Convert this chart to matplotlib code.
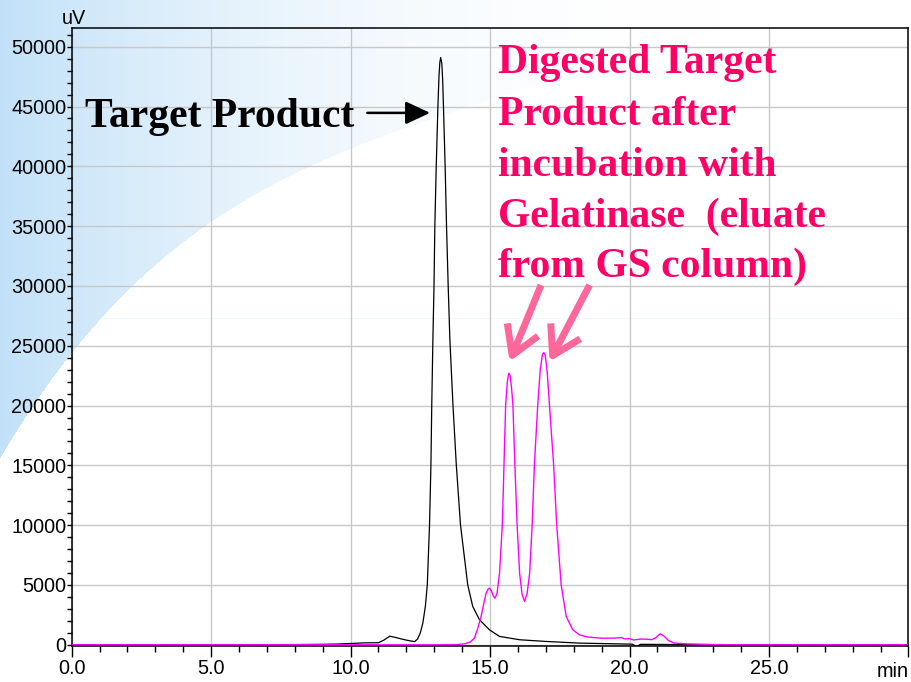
import numpy as np
import matplotlib
matplotlib.use("Agg")
import matplotlib.pyplot as plt
from matplotlib.ticker import MultipleLocator, FuncFormatter

# Target product (black) trace: time (min), signal (uV)
t_target = [0.0, 5.0, 8.0, 9.0, 9.5, 10.0, 10.5, 11.0, 11.2, 11.4, 11.6, 11.8, 12.0,
            12.2, 12.3, 12.4, 12.5, 12.59, 12.68, 12.75, 12.83, 12.88, 12.91, 12.95,
            12.99, 13.02, 13.07, 13.13, 13.17, 13.2, 13.23, 13.27, 13.3, 13.33, 13.39,
            13.44, 13.5, 13.56, 13.67, 13.79, 13.94, 14.2, 14.38, 14.62, 14.98, 15.34,
            16.06, 17.0, 18.2, 19.5, 20.1, 20.25, 20.4, 21.0, 23.0, 30.0]
y_target = [0, 0, 20, 40, 60, 110, 160, 170, 400, 720, 620, 500, 390,
            300, 270, 480, 1000, 1810, 3200, 5010, 10025, 15040, 20050, 25480,
            29930, 34950, 39960, 44970, 47600, 48700, 49100, 48600, 47300, 44970, 39960,
            34950, 29930, 25480, 20050, 15040, 10025, 5010, 3200, 2100, 1250, 700,
            420, 280, 140, 80, 50, -150, 40, 30, 0, 0]

# Digested product after gelatinase (magenta) trace
t_digest = [0.0, 5.0, 10.0, 13.0, 13.8, 14.1, 14.3, 14.44, 14.55, 14.68, 14.78, 14.86,
            14.93, 14.98, 15.05, 15.12, 15.18, 15.25, 15.34, 15.44, 15.5, 15.56, 15.62,
            15.67, 15.72, 15.77, 15.82, 15.89, 15.97, 16.06, 16.15, 16.24, 16.33, 16.42,
            16.51, 16.59, 16.71, 16.8, 16.88, 16.93, 16.98, 17.05, 17.13, 17.28, 17.39,
            17.55, 17.73, 17.97, 18.2, 18.5, 19.0, 19.5, 19.7, 19.85, 20.0, 20.15, 20.4,
            20.6, 20.8, 20.95, 21.1, 21.25, 21.4, 21.6, 22.0, 23.0, 24.0, 30.0]
y_digest = [0, 0, 0, 0, 20, 80, 250, 560, 1300, 2370, 3500, 4320,
            4650, 4740, 4500, 4050, 3900, 4300, 5990, 10025, 15040, 20050, 22000,
            22700, 22500, 21500, 20050, 15040, 10025, 5990, 4200, 3620, 4300, 5990,
            10025, 15040, 20050, 23000, 24300, 24430, 24200, 22800, 20050, 15040, 10025,
            5010, 2370, 1250, 835, 650, 550, 560, 600, 480, 520, 400, 480,
            470, 430, 600, 920, 700, 350, 150, 80, 20, 0, 0]

digest_lines = ["Digested Target", "Product after", "incubation with",
                "Gelatinase  (eluate", "from GS column)"]

W, H = 911, 682
fig = plt.figure(figsize=(W / 100, H / 100), dpi=100)

# slide background: pale blue gradient on the left, white swoosh below a curve
bx = np.array([0, 33, 70, 100, 130, 177, 213, 300, 407, 500, 650, 800, 911])
by = np.array([472, 390, 347, 318, 287, 250, 227, 173, 125, 92, 48, 12, -15])
xs = np.arange(W)
edge = np.polyval(np.polyfit(bx, by, 4), xs)
yy, xx = np.mgrid[0:H, 0:W]
f = np.clip(1 - xx / 720.0, 0, 1) ** 2.2
f = np.where(yy < edge[None, :], f, 0.0)
base = np.array([194, 225, 248]) / 255.0
img = 1 - f[..., None] * (1 - base)
img[318, 100:] = img[318, 100:] * 0.6 + np.array([0.88, 0.94, 0.99]) * 0.4
bg = fig.add_axes([0, 0, 1, 1], zorder=-1)
bg.imshow(img, aspect="auto", interpolation="bilinear")
bg.axis("off")

ax = fig.add_axes([71.7 / W, (H - 645.5) / H, (908.4 - 71.7) / W, (645.5 - 28.3) / H])
ax.patch.set_alpha(0)
ax.set_xlim(0, 30)
ax.set_ylim(-60, 51540)

ax.plot(t_target, y_target, color="black", lw=0.9, zorder=3)
ax.plot(t_digest, y_digest, color="#ff00ff", lw=1.0, zorder=4)

ax.xaxis.set_major_locator(MultipleLocator(5))
ax.xaxis.set_minor_locator(MultipleLocator(1))
ax.yaxis.set_major_locator(MultipleLocator(5000))
ax.yaxis.set_minor_locator(MultipleLocator(1000))
# last tick at 30 min carries the "min" unit instead of a number
ax.xaxis.set_major_formatter(FuncFormatter(lambda v, p: "" if v >= 29.9 else f"{v:.1f}"))
ax.grid(True, which="major", color="#c8c8c8", lw=1.0, zorder=0)
ax.set_axisbelow(True)
for s in ax.spines.values():
    s.set_color("black")
    s.set_linewidth(1.1)

tick_font = {"family": "Liberation Sans", "size": 14.3}
ax.tick_params(axis="y", which="both", direction="out", length=3.8, width=1.0, pad=0)
ax.tick_params(axis="x", which="major", direction="out", length=8, width=1.0, pad=2)
ax.tick_params(axis="x", which="minor", direction="out", length=4.3, width=1.0)
for lab in ax.get_xticklabels() + ax.get_yticklabels():
    lab.set_fontfamily(tick_font["family"])
    lab.set_fontsize(tick_font["size"])

ax.annotate("uV", xy=(0, 1), xycoords="axes fraction", xytext=(1.7, 3.1),
            textcoords="offset points", ha="center", va="baseline", **tick_font)
ax.annotate("min", xy=(1, 0), xycoords="axes fraction", xytext=(0, -23),
            textcoords="offset points", ha="right", va="baseline", **tick_font)

serif = {"family": "Liberation Serif", "weight": "bold", "size": 30}
ax.text(0.47, 43300, "Target Product", ha="left", va="baseline", color="black", **serif)
ax.annotate("", xy=(12.85, 44470), xytext=(10.6, 44470),
            arrowprops=dict(arrowstyle="-|>,head_length=0.75,head_width=0.35",
                            mutation_scale=20, color="black", lw=1.8,
                            shrinkA=0, shrinkB=0))

base_rows = [47790, 43440, 39180, 34920, 30740]
for line, yb in zip(digest_lines, base_rows):
    ax.text(15.27, yb, line, ha="left", va="baseline", color="#ff0066", **serif)

for start, tip in [((16.83, 30080), (15.70, 23670)), ((18.57, 30080), (17.13, 23670))]:
    ax.annotate("", xy=tip, xytext=start,
                arrowprops=dict(arrowstyle="->,head_length=1.0,head_width=0.6",
                                mutation_scale=20, color="#ff6699", lw=5,
                                shrinkA=0, shrinkB=0, capstyle="butt"))

fig.savefig("out.png", dpi=100)
